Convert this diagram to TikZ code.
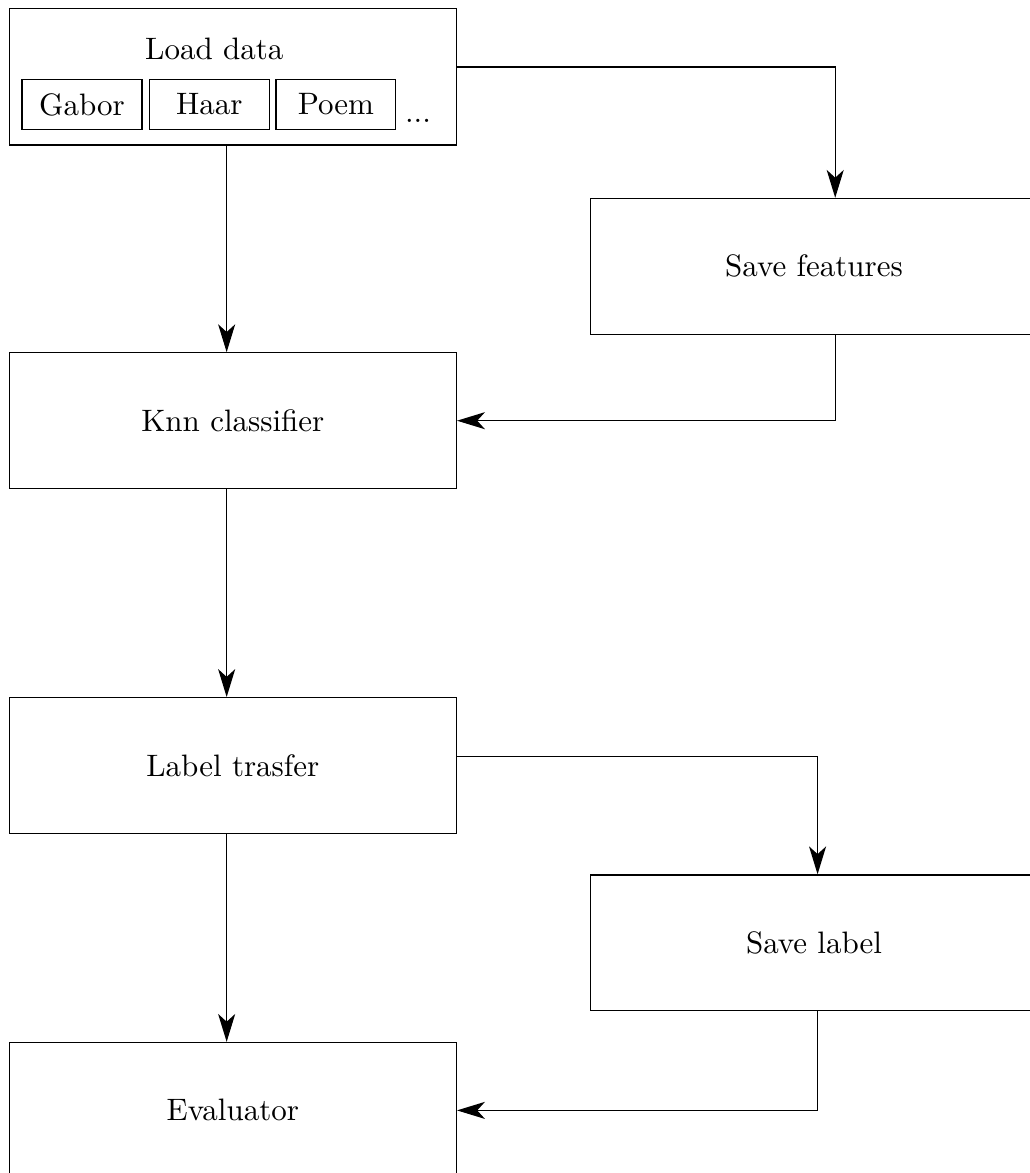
\documentclass[tikz,border=0pt]{standalone}
\usetikzlibrary{positioning,arrows.meta}
\begin{document}
\begin{tikzpicture}[block/.style={draw,minimum width=5.07cm,minimum height=1.54cm},
feat/.style={draw,minimum width=1.36cm,minimum height=0.56cm,inner sep=0pt},
arr/.style={-{Stealth[length=9pt,width=5.5pt,inset=2.5pt]}}]
\useasboundingbox (0,0) rectangle (11.67,-13.30);
\node[block,minimum height=1.55cm] (load) at (2.64,-0.87) {};
\node (loadtitle) at (2.43,-0.56) {Load data};
\node[feat] (gabor) at (0.93,-1.185) {Gabor};
\node[feat,right=0.07cm of gabor] (haar) {Haar};
\node[feat,right=0.06cm of haar] (poem) {Poem};
\node (dots) at (4.74,-1.37) {...};
\node[block] (knn) at (2.64,-4.77) {Knn classifier};
\node[block] (label) at (2.64,-8.68) {Label trasfer};
\node[block] (evaluator) at (2.64,-12.59) {Evaluator};
\node[block] (savef) at (9.23,-3.02) {Save features};
\node[block] (savel) at (9.23,-10.69) {Save label};
\foreach \a/\b in {load/knn,knn/label,label/evaluator}
\draw[arr] ([xshift=-0.07cm]\a.south) -- ([xshift=-0.07cm]\b.north);
\draw[arr] ([yshift=0.11cm]load.east) -| ([xshift=0.24cm]savef.north);
\draw[arr] ([xshift=0.24cm]savef.south) |- (knn.east);
\draw[arr] ([yshift=0.1cm]label.east) -| ([xshift=0.04cm]savel.north);
\draw[arr] ([xshift=0.04cm]savel.south) |- (evaluator.east);
\end{tikzpicture}
\end{document}
